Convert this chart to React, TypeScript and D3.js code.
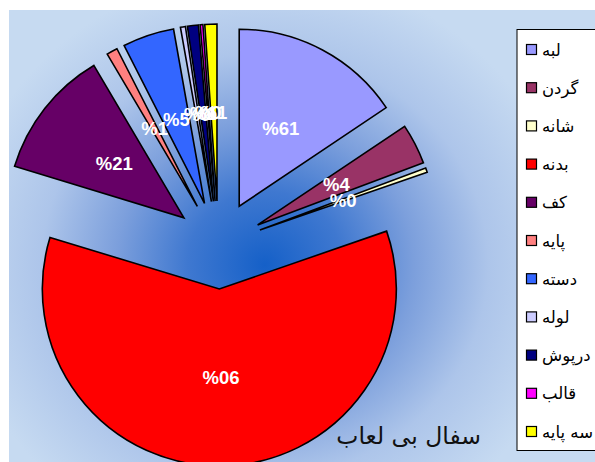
import React from "react";
import * as d3 from "d3";

const categories = ["لبه", "گردن", "شانه", "بدنه", "کف", "پایه", "دسته", "لوله", "درپوش", "قالب", "سه پایه"];
const values = [15.6, 3.7, 0.4, 60.0, 11.8, 1.0, 4.7, 0.45, 1.0, 0.25, 1.1];
const colors = ["#9999ff", "#993366", "#ffffcc", "#ff0000", "#660066", "#ff8080", "#3366ff", "#ccccff", "#000080", "#ff00ff", "#ffff00"];
const title = "سفال بی لعاب";

const W = 595;
const H = 462;

export default function App() {
  const cx = 218.5;
  const cy = 245;
  const r = 177;
  const explode = 44;
  const total = d3.sum(values);
  const pie = d3.pie<number>().sort(null).value((d) => d).startAngle(0).endAngle(2 * Math.PI);
  const arcs = pie(values);
  const arc = d3.arc<d3.PieArcDatum<number>>().innerRadius(0).outerRadius(r);

  const label = (v: number) => {
    const p = Math.round((v / total) * 100);
    return "%" + String(p).split("").reverse().join("");
  };

  return (
    <svg width={W} height={H} style={{ position: "absolute", left: 0, top: 0, display: "block" }}>
      <defs>
        <radialGradient id="bg" gradientUnits="userSpaceOnUse" cx={265} cy={265} r={310} gradientTransform="translate(265 265) scale(1 0.95) translate(-265 -265)">
          <stop offset="0" stopColor="#1560c8" />
          <stop offset="0.25" stopColor="#3f78d0" />
          <stop offset="0.48" stopColor="#7c9fdc" />
          <stop offset="0.72" stopColor="#adc5ea" />
          <stop offset="1" stopColor="#c6daf1" />
        </radialGradient>
      </defs>
      <rect x={0} y={0} width={W} height={H} fill="#ffffff" />
      <rect x={9} y={10} width={W} height={H} fill="url(#bg)" />
      {arcs.map((a, i) => {
        const mid = (a.startAngle + a.endAngle) / 2;
        const ox = Math.sin(mid) * explode;
        const oy = -Math.cos(mid) * explode;
        return (
          <path
            key={i}
            d={arc(a) || ""}
            transform={`translate(${cx + ox},${cy + oy})`}
            fill={colors[i]}
            stroke="#000"
            strokeWidth={1.6}
            strokeLinejoin="miter"
          />
        );
      })}
      {arcs.map((a, i) => {
        const mid = (a.startAngle + a.endAngle) / 2;
        const d = explode + r * 0.5;
        const x = cx + Math.sin(mid) * d;
        const y = cy - Math.cos(mid) * d;
        return (
          <text
            key={"l" + i}
            x={x}
            y={y}
            textAnchor="middle"
            dominantBaseline="central"
            fill="#ffffff"
            fontFamily="'Liberation Sans', Arial, sans-serif"
            fontWeight="bold"
            fontSize={18.5}
          >
            {label(values[i])}
          </text>
        );
      })}
      <text x={481} y={444} textAnchor="end" fontFamily="'DejaVu Sans', sans-serif" fontSize={23.5} fill="#111">
        {title}
      </text>
      <g>
        <rect x={517} y={29.5} width={100} height={421} fill="#ffffff" stroke="#000" strokeWidth={1} />
        {categories.map((c, i) => {
          const y = 50 + i * 38.2;
          return (
            <g key={"g" + i}>
              <rect x={526.5} y={y - 5.5} width={10} height={10} fill={colors[i]} stroke="#000" strokeWidth={1.2} />
              <text x={542} y={y} dominantBaseline="central" fontFamily="'DejaVu Sans', sans-serif" fontSize={16.5} fill="#000">
                {c}
              </text>
            </g>
          );
        })}
      </g>
    </svg>
  );
}
